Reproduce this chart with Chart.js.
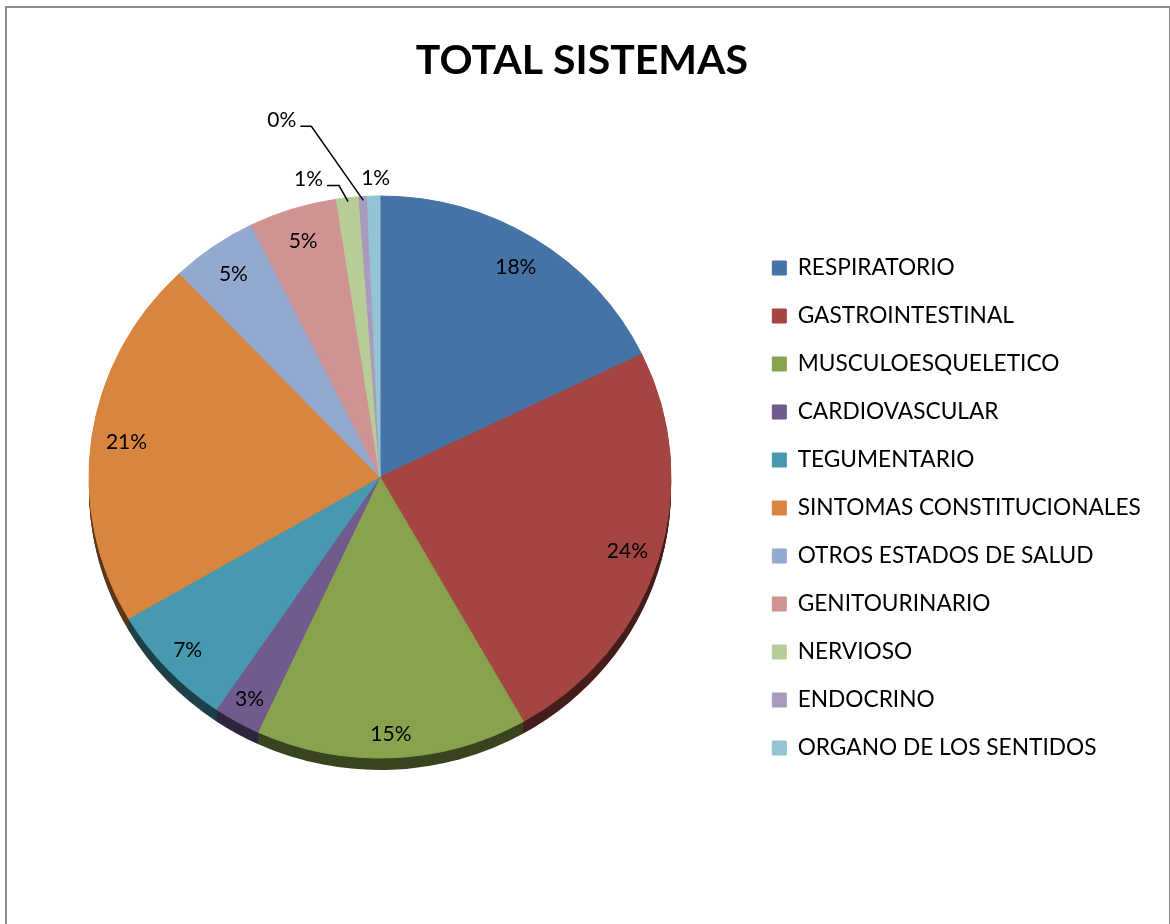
<!DOCTYPE html>
<html>
<head>
<meta charset="utf-8">
<title>Total sistemas</title>
<script src="https://cdn.jsdelivr.net/npm/chart.js@4.4.1/dist/chart.umd.min.js"></script>
<style>
  html, body { margin: 0; padding: 0; background: #fff; }
  #wrap { position: relative; width: 1170px; height: 924px; overflow: hidden; }
  #pie { position: absolute; left: 0; top: 0; }
  #frame {
    position: absolute; left: 5px; top: 6px;
    width: 1162px; height: 1000px;
    border: 2px solid #8c8c8c;
    pointer-events: none;
  }
</style>
</head>
<body>
<div id="wrap">
  <canvas id="pie" width="1170" height="924" style="width:1170px;height:924px"></canvas>
  <div id="frame"></div>
</div>
<script>
// Sistemas y su participación (%)
const categories = [
    'RESPIRATORIO',
    'GASTROINTESTINAL',
    'MUSCULOESQUELETICO',
    'CARDIOVASCULAR',
    'TEGUMENTARIO',
    'SINTOMAS CONSTITUCIONALES',
    'OTROS ESTADOS DE SALUD',
    'GENITOURINARIO',
    'NERVIOSO',
    'ENDOCRINO',
    'ORGANO DE LOS SENTIDOS'
];
const shares = [17.8, 24.0, 15.1, 2.6, 7.1, 21.3, 4.8, 4.9, 1.25, 0.45, 0.7];

const sliceColors = [
    '#4673a6', '#a54542', '#88a24e', '#715a8e', '#4699ae', '#d8853f',
    '#94a9cf', '#d09393', '#b8cc97', '#a99bbe', '#93c4d4'
];

// Etiquetas fuera del pastel para los sectores pequeños
const callouts = {
    8: { elbow: [-9, -16], end: [-21, -16] },
    9: { elbow: [-52, -74], end: [-63, -74] },
    10: { text: [2, -22] }
};

const FONT = 'Lato';
const titleSize = 41;
const legendFontSize = 22.7;
const rowHeight = 48;
const legendPadding = rowHeight - legendFontSize;
const legendBox = 14;
const legendLeft = 747;          // borde izquierdo deseado de la leyenda
const pieCenterX = 380;
const pieCenterY = 477;
const titleBlock = 36 + titleSize * 1.2;
const squash = 0.9656;           // inclinación del pastel
const depth = 12;                // grosor del borde 3D
const labelFrac = 0.88;

const total = shares.reduce((a, b) => a + b, 0);

const chartBottom = 2 * pieCenterY - titleBlock;
const firstItemTop = 268 - legendFontSize / 2;
const legendTitlePad = firstItemTop - legendPadding - titleBlock - 12;

function shade(hex, f) {
    const n = parseInt(hex.slice(1), 16);
    const r = Math.round(((n >> 16) & 255) * f);
    const g = Math.round(((n >> 8) & 255) * f);
    const b = Math.round((n & 255) * f);
    return `rgb(${r},${g},${b})`;
}

function applySquash(ctx, x, y) {
    ctx.translate(x, y);
    ctx.scale(1, squash);
    ctx.translate(-x, -y);
}

const pie3d = {
    id: 'pie3d',
    beforeDatasetsDraw(chart) {
        const ctx = chart.ctx;
        const arcs = chart.getDatasetMeta(0).data;
        const { x, y } = arcs[0];
        // lado oscuro del pastel
        for (let d = depth; d > 0; d--) {
            ctx.save();
            ctx.translate(0, d);
            applySquash(ctx, x, y);
            arcs.forEach((arc, i) => {
                const p = arc.getProps(['x', 'y', 'startAngle', 'endAngle', 'outerRadius'], true);
                ctx.fillStyle = shade(sliceColors[i], 0.42);
                ctx.beginPath();
                ctx.moveTo(p.x, p.y);
                ctx.arc(p.x, p.y, p.outerRadius, p.startAngle, p.endAngle);
                ctx.closePath();
                ctx.fill();
            });
            ctx.restore();
        }
        ctx.save();
        applySquash(ctx, x, y);
    },
    afterDatasetsDraw(chart) {
        const ctx = chart.ctx;
        ctx.restore();

        const arcs = chart.getDatasetMeta(0).data;
        ctx.save();
        ctx.font = `21px ${FONT}`;
        ctx.fillStyle = '#000';
        ctx.strokeStyle = '#000';
        ctx.lineWidth = 1.5;
        ctx.textBaseline = 'middle';
        arcs.forEach((arc, i) => {
            const p = arc.getProps(['x', 'y', 'startAngle', 'endAngle', 'outerRadius'], true);
            const mid = (p.startAngle + p.endAngle) / 2;
            const text = Math.round(shares[i] / total * 100) + '%';
            const c = callouts[i];
            if (!c) {
                // la mitad inferior queda un poco más hacia afuera
                const r = p.outerRadius * (labelFrac + 0.035 * Math.max(0, Math.sin(mid)));
                ctx.textAlign = 'center';
                ctx.fillText(text, p.x + Math.cos(mid) * r, p.y + Math.sin(mid) * r * squash);
                return;
            }
            const r = p.outerRadius - 4;
            const ax = p.x + Math.cos(mid) * r;
            const ay = p.y + Math.sin(mid) * r * squash;
            if (c.elbow) {
                const ex = ax + c.elbow[0], ey = ay + c.elbow[1];
                const tx = ax + c.end[0], ty = ay + c.end[1];
                ctx.beginPath();
                ctx.moveTo(ax, ay);
                ctx.lineTo(ex, ey);
                ctx.lineTo(tx, ty);
                ctx.stroke();
                ctx.textAlign = 'right';
                ctx.fillText(text, tx - 4, ty - 6);
            } else {
                ctx.textAlign = 'center';
                ctx.fillText(text, ax + c.text[0], ay + c.text[1]);
            }
        });
        ctx.restore();
    }
};

const chart = new Chart(document.getElementById('pie'), {
    type: 'pie',
    data: {
        labels: categories,
        datasets: [{
            data: shares,
            backgroundColor: sliceColors,
            borderColor: sliceColors,
            borderWidth: 1,
            radius: 291
        }]
    },
    options: {
        responsive: false,
        animation: false,
        layout: {
            padding: { left: 2 * pieCenterX - legendLeft, right: 35, top: 0, bottom: 924 - chartBottom }
        },
        plugins: {
            title: {
                display: true,
                text: 'TOTAL SISTEMAS',
                color: '#000',
                font: { family: FONT, size: titleSize, weight: 'bold', lineHeight: 1.2 },
                padding: { top: 36, bottom: 0 }
            },
            legend: {
                position: 'right',
                align: 'start',
                fullSize: false,
                title: { display: true, text: '', font: { size: 10 }, padding: { top: legendTitlePad, bottom: 0 } },
                labels: {
                    boxWidth: legendBox,
                    boxHeight: legendBox,
                    padding: legendPadding,
                    color: '#000',
                    font: { family: FONT, size: legendFontSize }
                }
            },
            tooltip: { enabled: false }
        }
    },
    plugins: [pie3d]
});

// ajustar el margen derecho para que la leyenda quede en su sitio
const shift = legendLeft - chart.legend.left;
if (Math.abs(shift) > 0.5) {
    chart.options.layout.padding.right -= shift;
    chart.update();
}
</script>
</body>
</html>
